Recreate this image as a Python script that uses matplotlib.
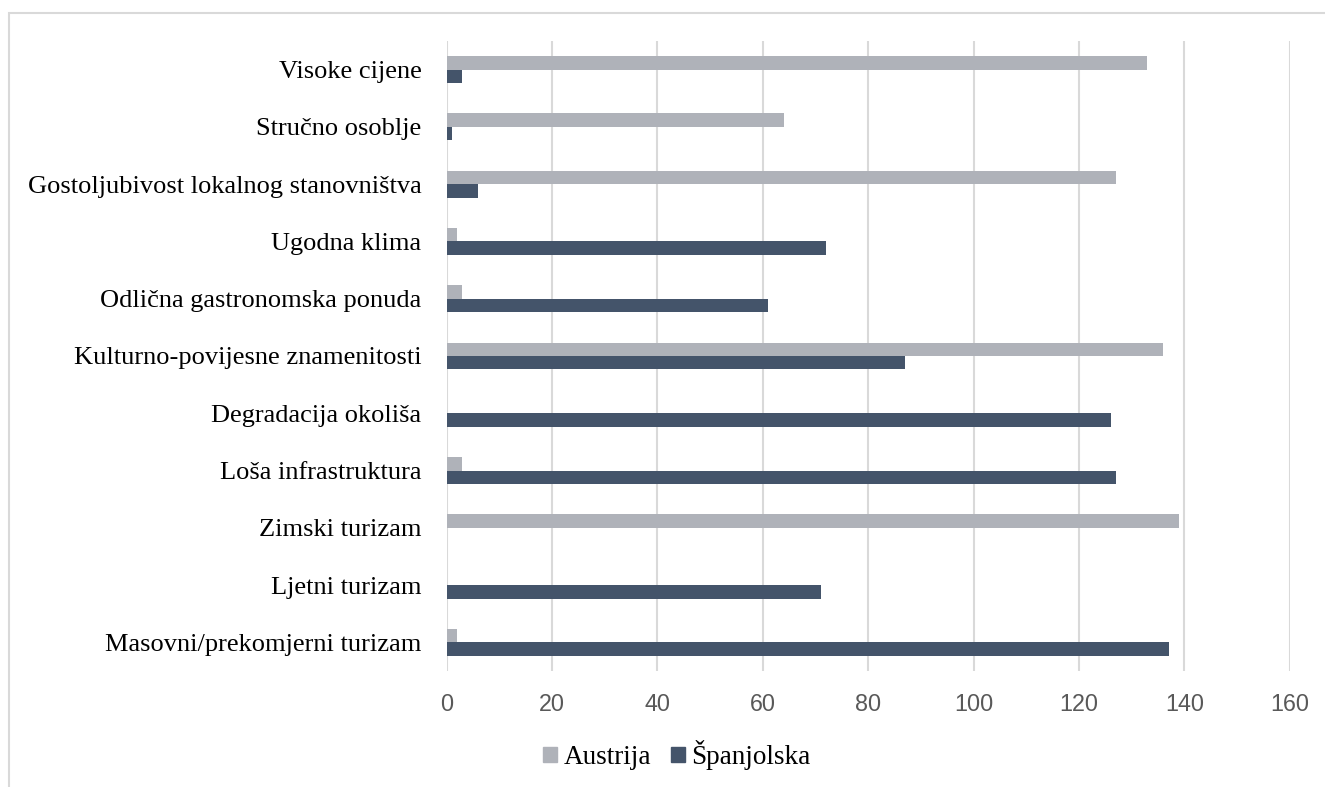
import matplotlib
matplotlib.use("Agg")
import matplotlib.pyplot as plt
import numpy as np
from matplotlib.patches import Rectangle, Patch

# data (top to bottom as in the chart)
categories = [
    "Visoke cijene",
    "Stručno osoblje",
    "Gostoljubivost lokalnog stanovništva",
    "Ugodna klima",
    "Odlična gastronomska ponuda",
    "Kulturno-povijesne znamenitosti",
    "Degradacija okoliša",
    "Loša infrastruktura",
    "Zimski turizam",
    "Ljetni turizam",
    "Masovni/prekomjerni turizam",
]
austrija = [133, 64, 127, 2, 3, 136, 0, 3, 139, 0, 2]
spanjolska = [3, 1, 6, 72, 61, 87, 126, 127, 0, 71, 137]
xticks = [0, 20, 40, 60, 80, 100, 120, 140, 160]

c_aut = "#AFB2B9"
c_esp = "#44546A"

fig = plt.figure(figsize=(13.25, 7.87), dpi=100)
ax = fig.add_axes([0.337, 0.1474, 0.6364, 0.8005])

n = len(categories)
y = np.arange(n)[::-1]
h = 0.235
ax.barh(y + h / 2, austrija, height=h, color=c_aut, zorder=3, label="Austrija")
ax.barh(y - h / 2, spanjolska, height=h, color=c_esp, zorder=3, label="Španjolska")

ax.set_xlim(0, 160)
ax.set_ylim(-0.5, n - 0.5)
ax.set_xticks(xticks)
ax.set_xticklabels([str(v) for v in xticks], fontsize=16.8, color="#595959",
                   family="Liberation Sans")
ax.set_yticks(y)
ax.set_yticklabels(categories, fontsize=19, family="Liberation Serif", color="black")
ax.tick_params(axis="both", length=0)
ax.tick_params(axis="x", pad=16)
ax.tick_params(axis="y", pad=18)
ax.grid(axis="x", color="#D9D9D9", linewidth=1.5, zorder=0)
for s in ax.spines.values():
    s.set_visible(False)

# outer chart frame (runs off the canvas on the right and bottom)
frame = Rectangle((8.5 / 1325, -0.05), 1.2, 1 - 12.5 / 787 + 0.05, transform=fig.transFigure,
                  fill=False, edgecolor="#D9D9D9", linewidth=1.5)
fig.patches.append(frame)

handles = [Patch(color=c_aut, label="Austrija"), Patch(color=c_esp, label="Španjolska")]
fig.legend(handles=handles, loc="center", bbox_to_anchor=(677 / 1325, 1 - 755 / 787),
           ncol=2, frameon=False, prop={"family": "Liberation Serif", "size": 19.5},
           handlelength=0.5, handleheight=0.5, handletextpad=0.25, columnspacing=0.75)

fig.savefig("out.png", dpi=100)
